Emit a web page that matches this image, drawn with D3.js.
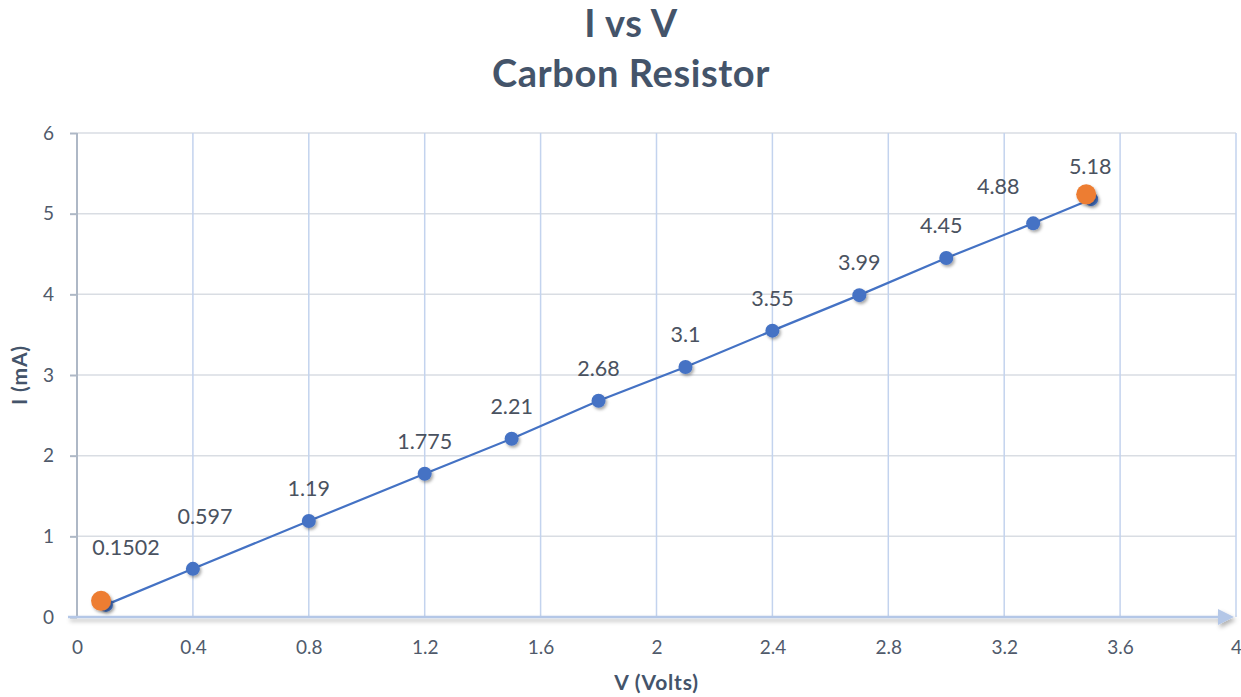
<!DOCTYPE html>
<html>
<head>
<meta charset="utf-8">
<script src="https://cdn.jsdelivr.net/npm/d3@7"></script>
<style>
  body { margin: 0; background: #fff; }
  svg text { font-family: Lato, "Open Sans", sans-serif; }
</style>
</head>
<body>
<svg id="chart" width="1241" height="697"></svg>
<script>
// Measured voltage (V) and current (mA) for the carbon resistor
const voltage = [0.1, 0.4, 0.8, 1.2, 1.5, 1.8, 2.1, 2.4, 2.7, 3.0, 3.3, 3.5];
const current = [0.1502, 0.597, 1.19, 1.775, 2.21, 2.68, 3.1, 3.55, 3.99, 4.45, 4.88, 5.18];
const currentLabels = ["0.1502", "0.597", "1.19", "1.775", "2.21", "2.68", "3.1", "3.55", "3.99", "4.45", "4.88", "5.18"];

// Two points picked off the line for the slope
const slopeV = [0.083, 3.483];
const slopeI = [0.2, 5.24];

const xTicks = [0, 0.4, 0.8, 1.2, 1.6, 2, 2.4, 2.8, 3.2, 3.6, 4];
const yTicks = [0, 1, 2, 3, 4, 5, 6];

// label nudges (px) relative to the default spot above each point
const labelNudge = [[20, -25], [12, -20], [0, 0], [0, 0], [0, 0], [0, 0], [0, 0], [0, 0], [0, 0], [-5, 0], [-35, -4], [-1, 0]];

const svg = d3.select("#chart");
const plotLeft = 77, plotRight = 1236, plotTop = 133, plotBottom = 617;

const x = d3.scaleLinear().domain([0, 4]).range([plotLeft, plotRight]);
const y = d3.scaleLinear().domain([0, 6]).range([plotBottom, plotTop]);

const defs = svg.append("defs");
const sh = defs.append("filter").attr("id", "shadow")
  .attr("x", "-50%").attr("y", "-50%").attr("width", "200%").attr("height", "200%");
sh.append("feDropShadow").attr("dx", 1.5).attr("dy", 2).attr("stdDeviation", 1.5)
  .attr("flood-color", "#000").attr("flood-opacity", 0.35);

const axShadow = defs.append("filter").attr("id", "axshadow")
  .attr("x", "-5%").attr("y", "-200%").attr("width", "110%").attr("height", "500%");
axShadow.append("feDropShadow").attr("dx", 2).attr("dy", 3).attr("stdDeviation", 2)
  .attr("flood-color", "#000").attr("flood-opacity", 0.3);

// Title
const title = svg.append("text").attr("x", 631).attr("text-anchor", "middle")
  .attr("font-weight", "bold").attr("font-size", 38).attr("letter-spacing", 0.6)
  .attr("fill", "#44546A");
title.append("tspan").attr("x", 631).attr("y", 37).text("I vs V");
title.append("tspan").attr("x", 631).attr("y", 87).text("Carbon Resistor");

// Horizontal gridlines
svg.append("g").selectAll("line").data(yTicks.filter(d => d > 0)).join("line")
  .attr("x1", plotLeft).attr("x2", plotRight)
  .attr("y1", d => y(d)).attr("y2", d => y(d))
  .attr("stroke", "#D9DDE3").attr("stroke-width", 1.5);

// Vertical gridlines
svg.append("g").selectAll("line").data(xTicks.filter(d => d > 0)).join("line")
  .attr("x1", d => x(d)).attr("x2", d => x(d))
  .attr("y1", plotTop).attr("y2", plotBottom)
  .attr("stroke", "#C3D3EE").attr("stroke-width", 1.5);

// Y axis
const yAxis = svg.append("g").attr("transform", `translate(${plotLeft},0)`)
  .call(d3.axisLeft(y).tickValues(yTicks).tickSize(7).tickPadding(16).tickFormat(d3.format("d")));
yAxis.select(".domain").attr("stroke", "#AEB8C6").attr("stroke-width", 2)
  .attr("d", `M0,${plotTop}V${plotBottom}`);
yAxis.selectAll(".tick line").attr("stroke", "#AEB8C6").attr("stroke-width", 2);
yAxis.selectAll(".tick text").attr("font-size", 19).attr("fill", "#505A6B")
  .attr("font-family", "Lato, 'Open Sans', sans-serif");

// X axis with arrow head
const xAxis = svg.append("g").attr("transform", `translate(0,${plotBottom})`)
  .call(d3.axisBottom(x).tickValues(xTicks).tickSize(0).tickPadding(24)
    .tickFormat(d => d3.format("~g")(d)));
xAxis.select(".domain").remove();
xAxis.selectAll(".tick text").attr("font-size", 19).attr("fill", "#505A6B")
  .attr("font-family", "Lato, 'Open Sans', sans-serif");
const arrowG = svg.append("g").attr("filter", "url(#axshadow)");
arrowG.append("line").attr("x1", plotLeft - 9).attr("x2", plotRight - 14)
  .attr("y1", plotBottom).attr("y2", plotBottom)
  .attr("stroke", "#B4C7E7").attr("stroke-width", 2.5);
arrowG.append("path")
  .attr("d", `M${plotRight - 18},${plotBottom - 8}L${plotRight - 2},${plotBottom}L${plotRight - 18},${plotBottom + 8}Z`)
  .attr("fill", "#B4C7E7");

// Axis titles
svg.append("text").attr("x", x(2)).attr("y", 690).attr("text-anchor", "middle")
  .attr("font-weight", "bold").attr("font-size", 21).attr("letter-spacing", 0.8)
  .attr("fill", "#44546A").text("V (Volts)");
svg.append("text").attr("transform", `translate(27,${(plotTop + plotBottom) / 2}) rotate(-90)`)
  .attr("text-anchor", "middle").attr("font-weight", "bold").attr("font-size", 21)
  .attr("letter-spacing", 0.8).attr("fill", "#44546A").text("I (mA)");

// Data line and markers
const pts = voltage.map((v, i) => ({ v, i: current[i], label: currentLabels[i], nudge: labelNudge[i] }));
svg.append("path").datum(pts)
  .attr("d", d3.line().x(d => x(d.v)).y(d => y(d.i)))
  .attr("fill", "none").attr("stroke", "#4472C4").attr("stroke-width", 2.2);

svg.append("g").selectAll("circle").data(pts).join("circle")
  .attr("cx", d => x(d.v)).attr("cy", d => y(d.i)).attr("r", 7)
  .attr("fill", "#4472C4").attr("filter", "url(#shadow)");

// Slope points
svg.append("g").selectAll("circle").data(slopeV.map((v, i) => ({ v, i: slopeI[i] }))).join("circle")
  .attr("cx", d => x(d.v)).attr("cy", d => y(d.i)).attr("r", 10)
  .attr("fill", "#ED7D31").attr("filter", "url(#shadow)");

// Value labels
svg.append("g").selectAll("text").data(pts).join("text")
  .attr("x", d => x(d.v) + d.nudge[0]).attr("y", d => y(d.i) - 25 + d.nudge[1])
  .attr("text-anchor", "middle").attr("font-size", 21.5).attr("fill", "#4A5260")
  .text(d => d.label);
</script>
</body>
</html>
